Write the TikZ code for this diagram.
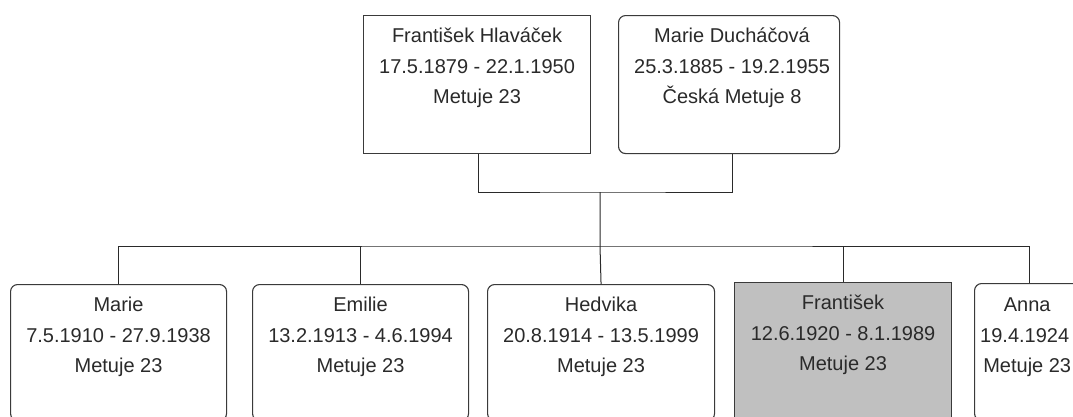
\documentclass[tikz,border=0pt]{standalone}
\usepackage{fontspec}
\setmainfont{Liberation Sans}
\definecolor{edge}{HTML}{3A3A3A}
\definecolor{ink}{HTML}{2A2A2A}
\definecolor{sel}{HTML}{C0C0C0}
\begin{document}
\begin{tikzpicture}[x=1pt,y=-1pt,
  box/.style={draw=edge,line width=1.1pt,rounded corners=7pt,anchor=north west,inner sep=0pt},
  sqbox/.style={draw=edge,line width=1.1pt,anchor=north west,inner sep=0pt},
  txt/.style={text=ink,align=center,inner sep=0pt,anchor=north,font=\fontsize{20}{30.8}\selectfont},
  link/.style={draw=ink,line width=1pt}]
\useasboundingbox (0,0) rectangle (1073,416);
\fill[white] (0,0) rectangle (1073,416);
% parents
\node[sqbox,minimum width=227pt,minimum height=138pt] (p1) at (363,15) {};
\node[box,minimum width=221pt,minimum height=138pt] (p2) at (618,15) {};
\node[txt] (tp1) at ([yshift=-11pt]p1.north) {\rule{0pt}{16pt}František Hlaváček\\17.5.1879 - 22.1.1950\\Metuje 23};
\node[txt] (tp2) at ([xshift=3pt,yshift=-11pt]p2.north) {\rule{0pt}{16pt}Marie Ducháčová\\25.3.1885 - 19.2.1955\\Česká Metuje 8};
% children
\node[box,minimum width=216pt,minimum height=136pt] (c1) at (10,284) {};
\node[box,minimum width=216pt,minimum height=136pt] (c2) at (252,284) {};
\node[box,minimum width=227pt,minimum height=136pt] (c3) at (487,284) {};
\node[sqbox,fill=sel,minimum width=217pt,minimum height=138pt] (c4) at (734,282) {};
\node[box,minimum width=110pt,minimum height=137pt] (c5) at (974,283) {};
\node[txt] (tc1) at ([yshift=-11pt]c1.north) {\rule{0pt}{16pt}Marie\\7.5.1910 - 27.9.1938\\Metuje 23};
\node[txt] (tc2) at ([yshift=-11pt]c2.north) {\rule{0pt}{16pt}Emilie\\13.2.1913 - 4.6.1994\\Metuje 23};
\node[txt] (tc3) at ([yshift=-11pt]c3.north) {\rule{0pt}{16pt}Hedvika\\20.8.1914 - 13.5.1999\\Metuje 23};
\node[txt] (tc4) at ([yshift=-11pt]c4.north) {\rule{0pt}{16pt}František\\12.6.1920 - 8.1.1989\\Metuje 23};
\node[txt,align=left,anchor=north west] (tc5) at (980,295) {\rule{0pt}{16pt}\makebox[94pt]{Anna}\\19.4.1924\\\makebox[94pt]{Metuje 23}};
% connectors
\coordinate (pm) at (600,192);
\coordinate (cm) at (600,246);
\draw[link] ([xshift=1.5pt]p1.south) |- (pm) -| ([xshift=3pt]p2.south);
\draw[link] (pm) -- (cm) -- (c3.north);
\draw[link] (c1.north) |- (cm) -| (c5.north);
\draw[link] (cm -| c2.north) -- (c2.north);
\draw[link] (cm -| c4.north) -- (c4.north);
\end{tikzpicture}
\end{document}
